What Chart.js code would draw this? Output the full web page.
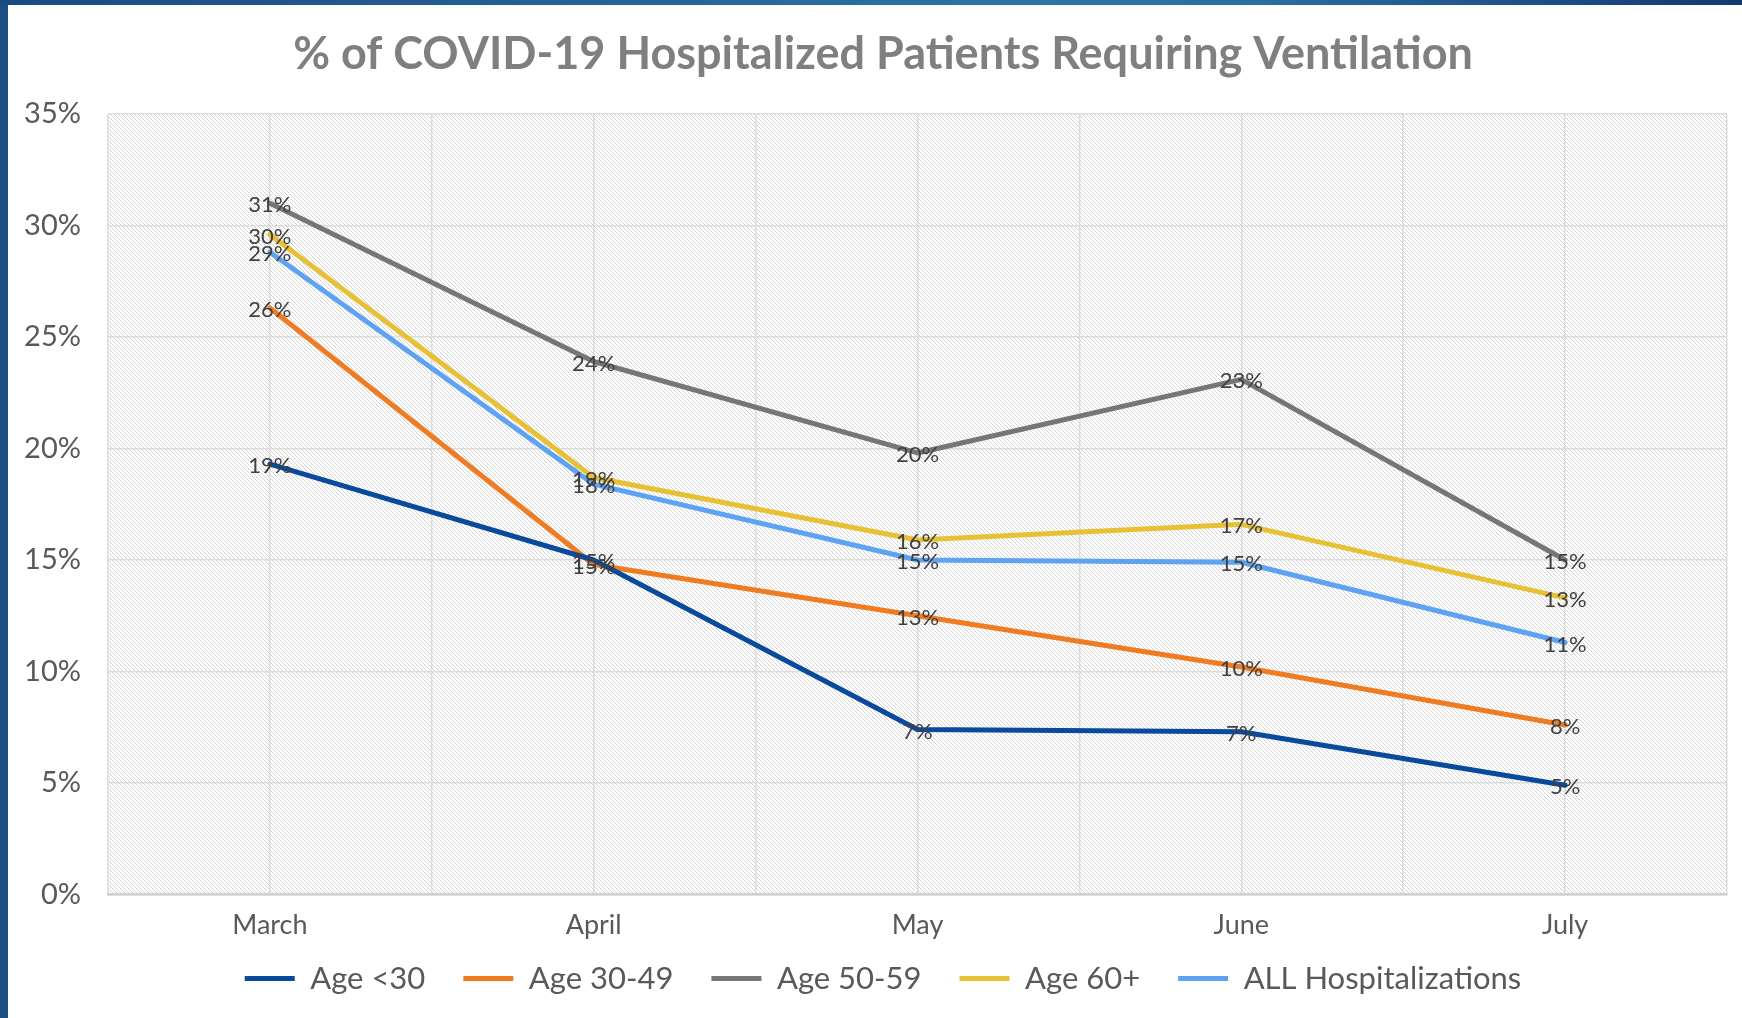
<!DOCTYPE html>
<html>
<head>
<meta charset="utf-8">
<script src="https://cdn.jsdelivr.net/npm/chart.js@4.4.1/dist/chart.umd.min.js"></script>
<style>
  html, body { margin: 0; padding: 0; background: #ffffff; }
  #wrap { position: relative; width: 1742px; height: 1018px; overflow: hidden; background: #ffffff; }
  #chart { position: absolute; left: 0; top: 0; }
  #leftbar { position: absolute; left: 0; top: 0; width: 8px; height: 1018px; background: #1c5083; }
  #topbar { position: absolute; left: 0; top: 0; width: 1742px; height: 5px;
    background: linear-gradient(90deg, #1b4a80 0%, #245f95 30%, #2b76a6 60%, #2a70a0 72%, #14396e 100%); }
</style>
</head>
<body>
<div id="wrap">
  <canvas id="chart" width="1742" height="1018"></canvas>
  <div id="leftbar"></div>
  <div id="topbar"></div>
</div>
<script>
// ---- data ----
const months = ['March', 'April', 'May', 'June', 'July'];
const seriesNames = ['Age <30', 'Age 30-49', 'Age 50-59', 'Age 60+', 'ALL Hospitalizations'];
const ageUnder30 = [19.3, 15.0, 7.4, 7.3, 4.9];
const age30to49 = [26.3, 14.8, 12.5, 10.2, 7.6];
const age50to59 = [31.0, 23.9, 19.8, 23.1, 15.0];
const age60plus = [29.6, 18.7, 15.9, 16.6, 13.3];
const allHosp = [28.8, 18.4, 15.0, 14.9, 11.3];
const yTickValues = [0, 5, 10, 15, 20, 25, 30, 35];
const chartTitle = '% of COVID-19 Hospitalized Patients Requiring Ventilation';

const seriesColors = ['#0a4a9c', '#ef7b22', '#767676', '#e7c133', '#5ea3f2'];
const seriesData = [ageUnder30, age30to49, age50to59, age60plus, allHosp];

const FONT = 'Lato, "Open Sans", sans-serif';

// hatch pattern for plot area
function makeHatch() {
  const c = document.createElement('canvas');
  c.width = 4; c.height = 4;
  const g = c.getContext('2d');
  g.fillStyle = '#ffffff';
  g.fillRect(0, 0, 4, 4);
  g.fillStyle = '#d5d5d5';
  for (let i = 0; i < 4; i++) g.fillRect(i, i, 1, 1);
  return g.createPattern(c, 'repeat');
}

const hatchPlugin = {
  id: 'hatch',
  beforeDraw(chart) {
    const {ctx, chartArea: a} = chart;
    ctx.save();
    ctx.fillStyle = makeHatch();
    ctx.fillRect(a.left, a.top, a.right - a.left, a.bottom - a.top);
    ctx.restore();
  }
};

const labelPlugin = {
  id: 'pointLabels',
  afterDatasetsDraw(chart) {
    const {ctx} = chart;
    ctx.save();
    ctx.font = '22px ' + FONT;
    ctx.fillStyle = '#404040';
    ctx.textAlign = 'center';
    ctx.textBaseline = 'middle';
    chart.data.datasets.forEach((ds, di) => {
      const meta = chart.getDatasetMeta(di);
      meta.data.forEach((pt, i) => {
        ctx.fillText(Math.round(ds.data[i]) + '%', pt.x, pt.y + 2);
      });
    });
    ctx.restore();
  }
};

const datasets = seriesNames.map((name, i) => ({
  label: name,
  data: seriesData[i],
  borderColor: seriesColors[i],
  backgroundColor: seriesColors[i],
  borderWidth: 5,
  borderCapStyle: 'round',
  borderJoinStyle: 'round',
  pointRadius: 0,
  pointHoverRadius: 0,
  tension: 0,
  fill: false,
  xAxisID: 'x',
  yAxisID: 'y'
}));

new Chart(document.getElementById('chart'), {
  type: 'line',
  data: { labels: months, datasets },
  options: {
    responsive: false,
    devicePixelRatio: 1,
    animation: false,
    layout: { padding: { left: 39, right: 15, top: 6, bottom: 14 } },
    plugins: {
      title: {
        display: true,
        text: chartTitle,
        color: '#7f7f7f',
        font: { family: FONT, size: 45, weight: 'bold' },
        padding: { top: 21, bottom: 33 }
      },
      legend: {
        position: 'bottom',
        maxHeight: 84,
        labels: {
          color: '#595959',
          font: { family: FONT, size: 31 },
          usePointStyle: true,
          pointStyle: 'line',
          pointStyleWidth: 50,
          padding: 38
        }
      },
      tooltip: { enabled: false }
    },
    scales: {
      x: {
        type: 'category',
        offset: true,
        afterFit(scale) { scale.height = 30.5; },
        afterUpdate(scale) { scale._computeLabelArea = () => undefined; },
        grid: { display: true, offset: false, color: '#dcdcdc', lineWidth: 1.5, drawTicks: false },
        border: { display: true, color: '#d0d0d0', width: 2.5 },
        ticks: { color: '#595959', font: { family: FONT, size: 27 }, padding: 15 }
      },
      x2: {
        type: 'category',
        labels: months,
        position: 'top',
        offset: true,
        grid: { display: true, offset: true, color: '#dcdcdc', lineWidth: 1.5, drawTicks: false },
        border: { display: false },
        ticks: { display: false }
      },
      y: {
        min: 0,
        max: 35,
        afterBuildTicks(scale) { scale.ticks = yTickValues.map(v => ({ value: v })); },
        afterFit(scale) { scale.width = 69; },
        afterUpdate(scale) { scale._computeLabelArea = () => undefined; },
        grid: { color: '#dcdcdc', lineWidth: 1.5, drawTicks: false },
        border: { display: false },
        ticks: {
          color: '#595959',
          font: { family: FONT, size: 29 },
          padding: 27,
          callback: v => v + '%'
        }
      }
    }
  },
  plugins: [hatchPlugin, labelPlugin]
});
</script>
</body>
</html>
